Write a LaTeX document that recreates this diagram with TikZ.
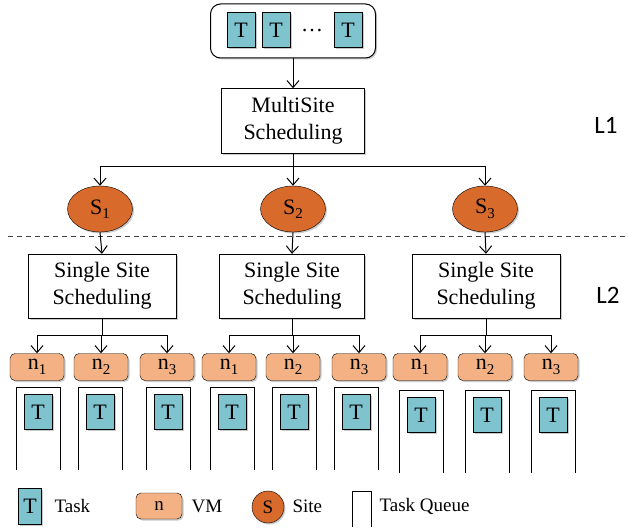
\documentclass[tikz,border=0pt]{standalone}
\usepackage{fontspec}
\setmainfont{Liberation Serif}
\newfontfamily\levelfont{Carlito}
\usetikzlibrary{arrows.meta,shapes.geometric,shadows}

\definecolor{taskfill}{RGB}{126,195,206}
\definecolor{sitefill}{RGB}{216,106,44}
\definecolor{vmfill}{RGB}{244,178,132}

\newcommand{\lowidx}[1]{\raisebox{-0.45ex}{\fontsize{15}{15}\selectfont #1}}

\tikzset{
  softshadow/.style={drop shadow={shadow xshift=1.5pt, shadow yshift=-1.5pt, opacity=0.35, fill=black!60}},
  task/.style={draw, fill=taskfill, minimum width=28pt, minimum height=35pt, inner sep=0pt, font=\fontsize{22}{22}\selectfont, softshadow},
  schedbox/.style={draw, fill=white, align=center, inner sep=0pt, font=\fontsize{22}{27}\selectfont, softshadow},
  site/.style={ellipse, draw, fill=sitefill, minimum width=65pt, minimum height=46pt, inner sep=0pt, font=\fontsize{22}{22}\selectfont, softshadow},
  vm/.style={draw, rounded corners=5pt, fill=vmfill, minimum width=54pt, minimum height=27pt, inner sep=0pt, font=\fontsize{22}{22}\selectfont, softshadow},
  link/.style={line width=1pt, -{Straight Barb[length=7pt,width=12pt]}},
  queue/.style={line width=1pt},
  legtext/.style={anchor=west, font=\fontsize{19}{19}\selectfont},
}

\begin{document}
\begin{tikzpicture}[x=1pt, y=-1pt]
  \useasboundingbox (0,0) rectangle (628,529);

  % L1: task pool and multisite scheduler
  \node[draw, line width=1pt, rounded corners=10pt, minimum width=165pt, minimum height=54pt, softshadow, fill=white] (pool) at (293,31) {};
  \node[task] (pt1) at (241,30) {T};
  \node[task] (pt2) at (276,30) {T};
  \node[font=\fontsize{22}{22}\selectfont] (pdots) at (312,31) {\ldots};
  \node[task] (pt3) at (348,30) {T};

  \node[schedbox, minimum width=143pt, minimum height=65pt] (ms) at (293,121) {MultiSite\\Scheduling};
  \draw[link] (pool.south) -- (ms.north);

  \node[site] (s1) at (100,209) {S\lowidx{1}};
  \node[site] (s2) at (293,209) {S\lowidx{2}};
  \node[site] (s3) at (485,209) {S\lowidx{3}};

  \draw[line width=1pt] (ms.south) -- ++(0,13) coordinate (msfork);
  \draw[link] (msfork) -| (s1.north);
  \draw[link] (msfork) -- (s2.north);
  \draw[link] (msfork) -| (s3.north);

  \node[font=\levelfont\fontsize{25}{25}\selectfont] (lone) at (606,125) {L1};

  % separator between the two levels
  \draw[line width=1pt, black!75, dash pattern=on 5pt off 4pt] (8,236) -- (628,236);

  % L2: single site schedulers
  \node[schedbox, minimum width=148pt, minimum height=64pt] (ss1) at (102,286) {Single Site\\Scheduling};
  \node[schedbox, minimum width=145pt, minimum height=64pt] (ss2) at (292,286) {Single Site\\Scheduling};
  \node[schedbox, minimum width=148pt, minimum height=64pt] (ss3) at (486,286) {Single Site\\Scheduling};
  \draw[link] (s1.south) -- (ss1.north);
  \draw[link] (s2.south) -- (ss2.north);
  \draw[link] (s3.south) -- (ss3.north);

  \node[font=\levelfont\fontsize{25}{25}\selectfont] (ltwo) at (608,295) {L2};

  % VMs
  \foreach \nm/\x/\k in {a1/37/1, a2/101/2, a3/167/3,
                         b1/229/1, b2/293/2, b3/359/3,
                         c1/420/1, c2/485/2, c3/551/3}
    \node[vm] (\nm) at (\x,367) {n\lowidx{\k}};

  \foreach \g in {1,2,3}
    \draw[line width=1pt] (ss\g.south) -- ++(0,17) coordinate (fork\g);
  \draw[link] (fork1) -| (a1.north);
  \draw[link] (fork1) -| (a2.north);
  \draw[link] (fork1) -| (a3.north);
  \draw[link] (fork2) -| (b1.north);
  \draw[link] (fork2) -| (b2.north);
  \draw[link] (fork2) -| (b3.north);
  \draw[link] (fork3) -| (c1.north);
  \draw[link] (fork3) -| (c2.north);
  \draw[link] (fork3) -| (c3.north);

  % task queues
  \foreach \nm/\x/\top in {a1/38/387, a2/100/387, a3/168/387,
                           b1/232/387, b2/294/387, b3/356/387,
                           c1/421/390, c2/487/390, c3/553/390} {
    \draw[queue] (\x-22,\top+83) -- (\x-22,\top) -- (\x+22,\top) -- (\x+22,\top+83);
    \node[task] (q\nm) at (\x,\top+25) {T};
  }

  % legend
  \node[task, minimum width=23pt, minimum height=36pt] (legtask) at (30,506) {T};
  \node[legtext] (legtasktxt) at (51,506) {Task};
  \node[vm, minimum width=46pt, minimum height=26pt, font=\fontsize{19}{19}\selectfont] (legvm) at (159,506) {n};
  \node[legtext] (legvmtxt) at (188,506) {VM};
  \node[circle, draw, fill=sitefill, minimum size=32pt, inner sep=0pt, font=\fontsize{19}{19}\selectfont, softshadow] (legsite) at (268,507) {S};
  \node[legtext] (legsitetxt) at (289,506) {Site};
  \draw[queue] (352,527) -- (352,491) -- (371,491) -- (371,527);
  \node[legtext] (legqueuetxt) at (376,506) {Task Queue};
\end{tikzpicture}
\end{document}
